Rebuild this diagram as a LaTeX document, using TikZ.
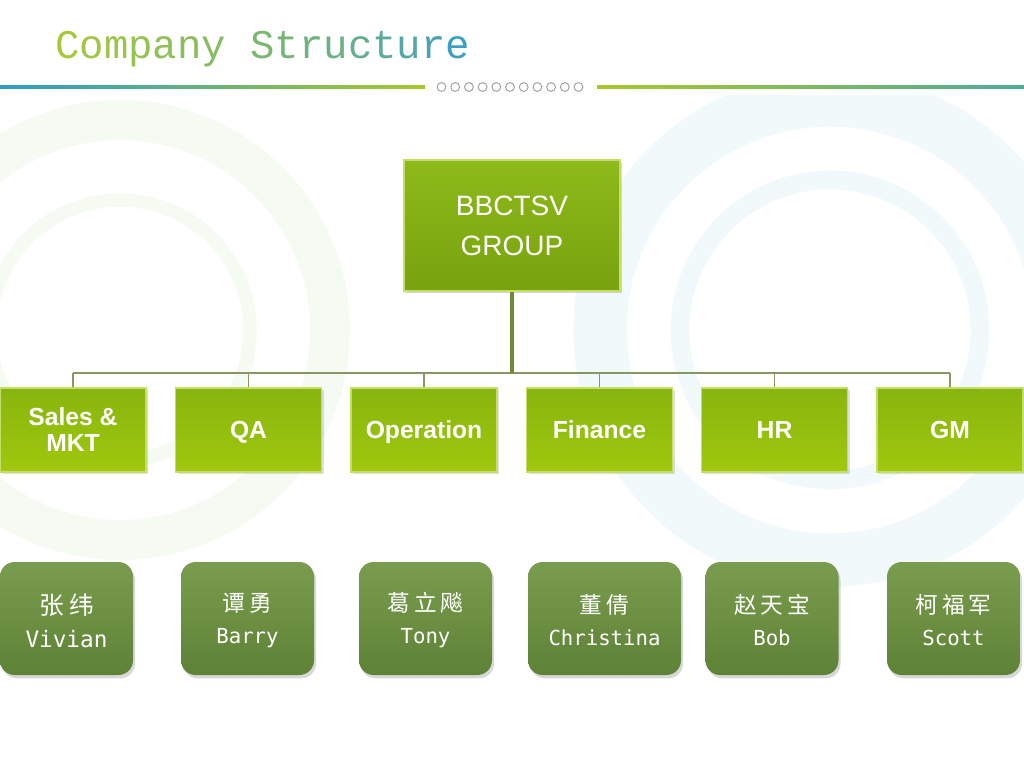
\documentclass[tikz,border=0pt]{standalone}
\usepackage{fontspec}
\setmainfont{Liberation Sans}
\newfontfamily\titlefont{Liberation Mono}
\newfontfamily\cjk{Noto Sans CJK SC}
\newfontfamily\namefont{DejaVu Sans Mono}
\usetikzlibrary{shadows}
\definecolor{tA}{HTML}{A6C83A}
\definecolor{tB}{HTML}{3C9EC4}
\definecolor{lineBlue}{HTML}{2A9EC8}
\definecolor{lineGreen}{HTML}{A8C828}
\definecolor{dotGray}{HTML}{A39C9A}
\definecolor{topTop}{HTML}{8DBA1A}
\definecolor{topBot}{HTML}{78A20E}
\definecolor{depTop}{HTML}{88B50E}
\definecolor{depBot}{HTML}{A0C80E}
\definecolor{depEdge}{HTML}{C4DE6A}
\definecolor{perTop}{HTML}{7A9C4E}
\definecolor{perBot}{HTML}{5E8236}
\definecolor{connCol}{HTML}{879764}
\definecolor{stemCol}{HTML}{6E8A34}
\definecolor{decor}{HTML}{F5FAF3}
\definecolor{decorB}{HTML}{F2F9FA}
\tikzset{
  topbox/.style={draw=depEdge, line width=1pt, top color=topTop, bottom color=topBot,
    minimum width=162pt, minimum height=98.25pt, text=white, align=center,
    font=\fontsize{21}{30}\selectfont, drop shadow={shadow xshift=1.5pt, shadow yshift=-1.5pt, opacity=0.3}},
  depbox/.style={draw=depEdge, line width=1pt, top color=depTop, bottom color=depBot,
    minimum width=109.5pt, minimum height=63pt, text=white, align=center,
    text height=13.2pt, text depth=0pt,
    font=\fontsize{18.5}{19.5}\selectfont\bfseries, drop shadow={shadow xshift=1.5pt, shadow yshift=-1.5pt, opacity=0.25}},
  deptext/.style={text=white, align=center, inner sep=0pt,
    font=\fontsize{18.5}{19.5}\selectfont\bfseries},
  perbox/.style={rounded corners=11pt, top color=perTop, bottom color=perBot,
    minimum width=99.75pt, minimum height=84.75pt,
    drop shadow={shadow xshift=1.5pt, shadow yshift=-2.5pt, opacity=0.3}},
  pertext/.style={text=white, align=center, inner sep=0pt,
    font=\fontsize{15.5}{24}\selectfont},
  conn/.style={draw=connCol, line width=1.3pt},
  stem/.style={draw=stemCol, line width=2.3pt},
  dot/.style={draw=dotGray, line width=0.7pt, circle, inner sep=0pt, minimum size=6.6pt}
}
\newcommand{\nm}[2]{{\cjk\fontsize{17}{24}\selectfont #1}\\{\namefont #2}}
\newcommand{\ck}{\kern3pt}
\begin{document}
\begin{tikzpicture}[x=0.75pt,y=-0.75pt]
\useasboundingbox (0,0) rectangle (1024,768);
\fill[white] (0,0) rectangle (1024,768);
% faint background decoration
\begin{scope}
\clip (0,95) rectangle (1024,768);
\draw[decorB, line width=40pt] (830,330) circle (230);
\draw[decorB, line width=14pt] (830,330) circle (150);
\draw[decor, line width=30pt] (120,330) circle (210);
\draw[decor, line width=10pt] (120,330) circle (130);
\end{scope}
% title
\node[anchor=base west, inner sep=0pt, font=\titlefont\fontsize{30.5}{32}\selectfont] (title) at (55,58)
{\textcolor{tA}{C}\textcolor{tA!95!tB}{o}\textcolor{tA!90!tB}{m}\textcolor{tA!85!tB}{p}\textcolor{tA!80!tB}{a}\textcolor{tA!75!tB}{n}\textcolor{tA!70!tB}{y}\ \textcolor{tA!60!tB}{S}\textcolor{tA!55!tB}{t}\textcolor{tA!50!tB}{r}\textcolor{tA!44!tB}{u}\textcolor{tA!38!tB}{c}\textcolor{tA!30!tB}{t}\textcolor{tA!22!tB}{u}\textcolor{tA!12!tB}{r}\textcolor{tB}{e}};
% separator line
\shade[left color=lineBlue, right color=lineGreen] (0,85.6) rectangle (425,88.4);
\shade[left color=lineGreen, right color=lineBlue!70!lineGreen] (597,85.6) rectangle (1024,88.4);
\foreach \i in {0,...,10} { \node[dot] (dot\i) at (441.5+13.7*\i,87) {}; }
% top node
\node[topbox] (top) at (512,225.5) {BBCTSV\\GROUP};
% departments
\node[depbox] (d1) at (73,430) {};
\node[deptext] (t1) at ([yshift=0.6pt]d1.center) {Sales \&\\MKT};
\node[depbox] (d2) at (248.5,430) {QA};
\node[depbox] (d3) at (424,430) {Operation};
\node[depbox] (d4) at (599.5,430) {Finance};
\node[depbox] (d5) at (774.5,430) {HR};
\node[depbox] (d6) at (950,430) {GM};
% connectors
\coordinate (bus) at (512,373);
\draw[conn] (d1.north |- bus) -- (d6.north |- bus);
\foreach \k in {1,...,6} { \draw[conn] (d\k.north) -- (d\k.north |- bus); }
\draw[stem] (top.south) -- (bus);
% people
\node[perbox] (p1) at (66.5,618.5) {};
\node[perbox] (p2) at (247.5,618.5) {};
\node[perbox] (p3) at (425.5,618.5) {};
\node[perbox, minimum width=114.75pt] (p4) at (604.5,618.5) {};
\node[perbox] (p5) at (772,618.5) {};
\node[perbox] (p6) at (953.5,618.5) {};
\node[pertext, font=\fontsize{17}{25}\selectfont] (n1) at ([yshift=-1.5pt]p1.center) {{\cjk\fontsize{18.5}{25}\selectfont 张\kern4pt 纬}\\{\namefont Vivian}};
\node[pertext] (n2) at ([yshift=-1.5pt]p2.center) {\nm{谭\ck 勇}{Barry}};
\node[pertext] (n3) at ([yshift=-1.5pt]p3.center) {\nm{葛\ck 立\ck 飚}{Tony}};
\node[pertext] (n4) at ([yshift=-1.5pt]p4.center) {\nm{董\ck 倩}{Christina}};
\node[pertext] (n5) at ([yshift=-1.5pt]p5.center) {\nm{赵\ck 天\ck 宝}{Bob}};
\node[pertext] (n6) at ([yshift=-1.5pt]p6.center) {\nm{柯\ck 福\ck 军}{Scott}};
\end{tikzpicture}
\end{document}
